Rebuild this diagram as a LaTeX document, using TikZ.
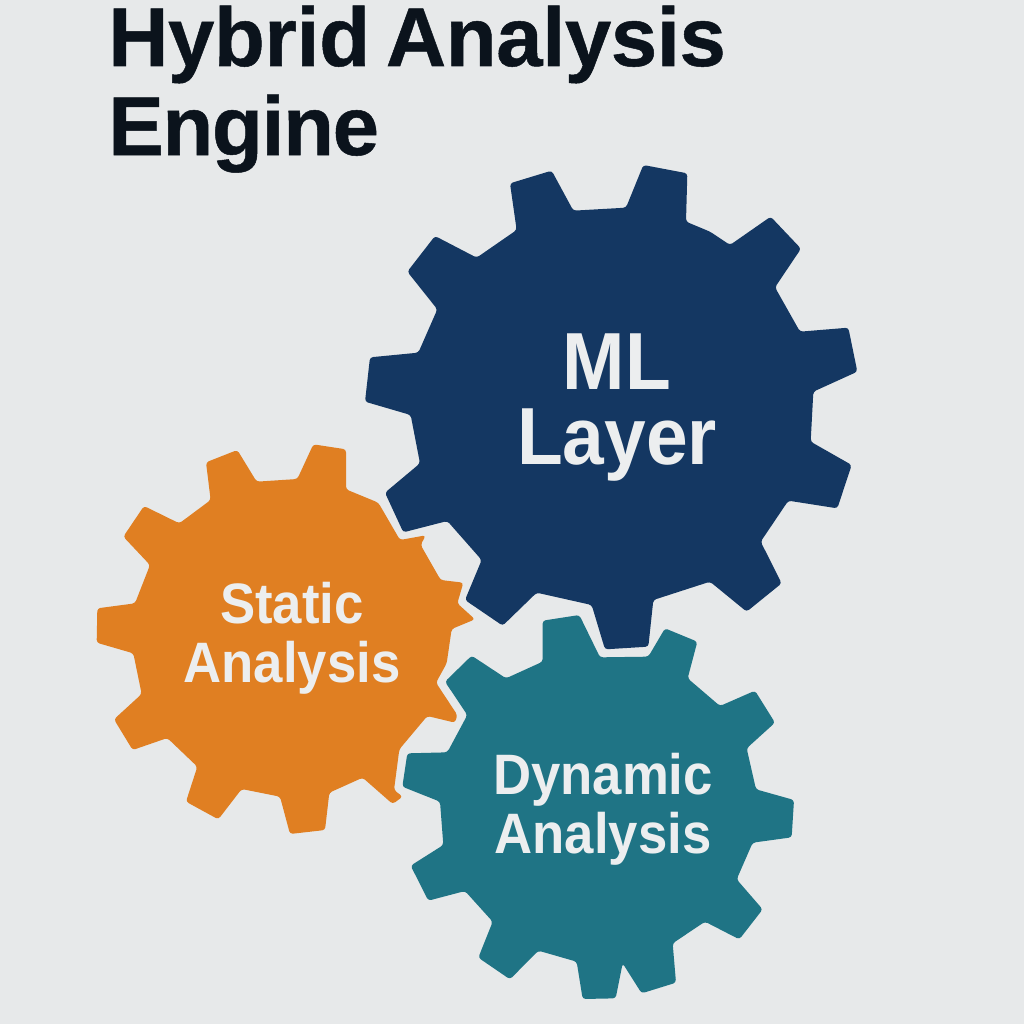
\documentclass[tikz,border=0pt]{standalone}
\usepackage{fontspec}
\setmainfont{Liberation Sans}
\newfontfamily\labelfont[BoldFeatures={FakeStretch=0.925}]{Liberation Sans}
\newfontfamily\titlefont[BoldFeatures={FakeBold=0.6},LetterSpace=-0.5,WordSpace=0.7]{Liberation Sans}
\newfontfamily\titlefonttight[BoldFeatures={FakeBold=0.6},LetterSpace=-1.7]{Liberation Sans}
\definecolor{paper}{HTML}{E7E9EA}
\definecolor{navy}{HTML}{143762}
\definecolor{amber}{HTML}{E07F22}
\definecolor{tealg}{HTML}{1F7485}
\definecolor{ink}{HTML}{0B131C}
\definecolor{lbl}{HTML}{ECEEEF}
\tikzset{
  gearshape/.style={rounded corners=2.2pt,line join=round},
  zoomblue/.style={shift={(270pt,-112.5pt)},x=.25pt,y=-.25pt},
  zoomamber/.style={shift={(60pt,-322.5pt)},x=.25pt,y=-.25pt},
  zoomteal/.style={shift={(292.5pt,-450pt)},x=.25pt,y=-.25pt},
  gearlabel/.style={text=lbl,align=center,font=\labelfont\bfseries\fontsize{42.75pt}{44.25pt}\selectfont,inner sep=0pt},
  biglabel/.style={gearlabel,font=\labelfont\bfseries\fontsize{60.75pt}{56.25pt}\selectfont},
  titletext/.style={text=ink,anchor=base west,inner sep=0pt,font=\titlefont\bfseries\fontsize{62.5pt}{62.5pt}\selectfont}
}
\begin{document}
\begin{tikzpicture}[x=.75pt,y=-.75pt]
\fill[paper] (0,0) rectangle (1024,1024);
\useasboundingbox (0,0) rectangle (1024,1024);
\begin{scope}[zoomamber]
\fill[amber,gearshape] (378,97) -- (472,60) -- (530,155) -- (652,147) -- (700,43) -- (798,58) -- (798,178) -- (895,218) -- (960,330) -- (1037,316) -- (1022,345) -- (1082,450) -- (1150,458) -- (1132,520) -- (1185,568) -- (1115,597) -- (1100,700) -- (1068,758) -- (1132,855) -- (1125,878) -- (1042,858) -- (958,958) -- (942,1080) -- (968,1100) -- (938,1122) -- (848,1043) -- (748,1088) -- (735,1200) -- (630,1212) -- (600,1100) -- (485,1077) -- (415,1168) -- (318,1115) -- (352,1010) -- (262,924) -- (158,960) -- (102,868) -- (185,792) -- (160,670) -- (50,638) -- (52,535) -- (165,520) -- (210,405) -- (130,320) -- (192,228) -- (298,280) -- (392,210) -- cycle;
\end{scope}
\begin{scope}[zoomblue]
\fill[navy,gearshape] (450,100) -- (575,62) -- (640,182) -- (798,173) -- (850,45) -- (982,70) -- (978,215) -- (1050,245) -- (1110,285) -- (1232,200) -- (1323,296) -- (1245,412) -- (1320,545) -- (1465,533) -- (1492,665) -- (1360,725) -- (1352,875) -- (1475,945) -- (1432,1075) -- (1285,1052) -- (1202,1175) -- (1265,1300) -- (1160,1385) -- (1050,1295) -- (880,1350) -- (865,1490) -- (735,1498) -- (695,1365) -- (530,1328) -- (428,1427) -- (315,1350) -- (365,1230) -- (262,1113) -- (130,1147) -- (75,1028) -- (180,940) -- (152,795) -- (15,755) -- (30,622) -- (175,608) -- (232,478) -- (142,365) -- (225,258) -- (350,323) -- (470,240) -- cycle;
\end{scope}
\begin{scope}[zoomteal]
\fill[tealg,gearshape] (458,62) -- (568,45) -- (630,172) -- (775,170) -- (825,85) -- (922,125) -- (893,235) -- (990,318) -- (1095,272) -- (1155,368) -- (1070,445) -- (1098,568) -- (1212,600) -- (1205,712) -- (1088,728) -- (1040,838) -- (1118,928) -- (1048,1018) -- (945,965) -- (848,1030) -- (858,1148) -- (755,1180) -- (698,1090) -- (677,1195) -- (578,1197) -- (560,1085) -- (445,1052) -- (360,1138) -- (265,1073) -- (308,965) -- (225,873) -- (115,902) -- (62,797) -- (160,735) -- (150,605) -- (37,560) -- (52,460) -- (172,457) -- (232,345) -- (165,245) -- (245,167) -- (348,235) -- (458,185) -- cycle;
\end{scope}
\node[titletext] (t1) at (108,66) {Hybrid Analysis};
\node[titletext,font=\titlefonttight\bfseries\fontsize{62.5pt}{62.5pt}\selectfont] (t2) at (108,155) {Engine};
\node[biglabel] (ml) at (617,408) {ML\\Layer};
\node[gearlabel] (st) at (292,638.5) {Static\\Analysis};
\node[gearlabel] (dy) at (603,809) {Dynamic\\Analysis};
\end{tikzpicture}
\end{document}
